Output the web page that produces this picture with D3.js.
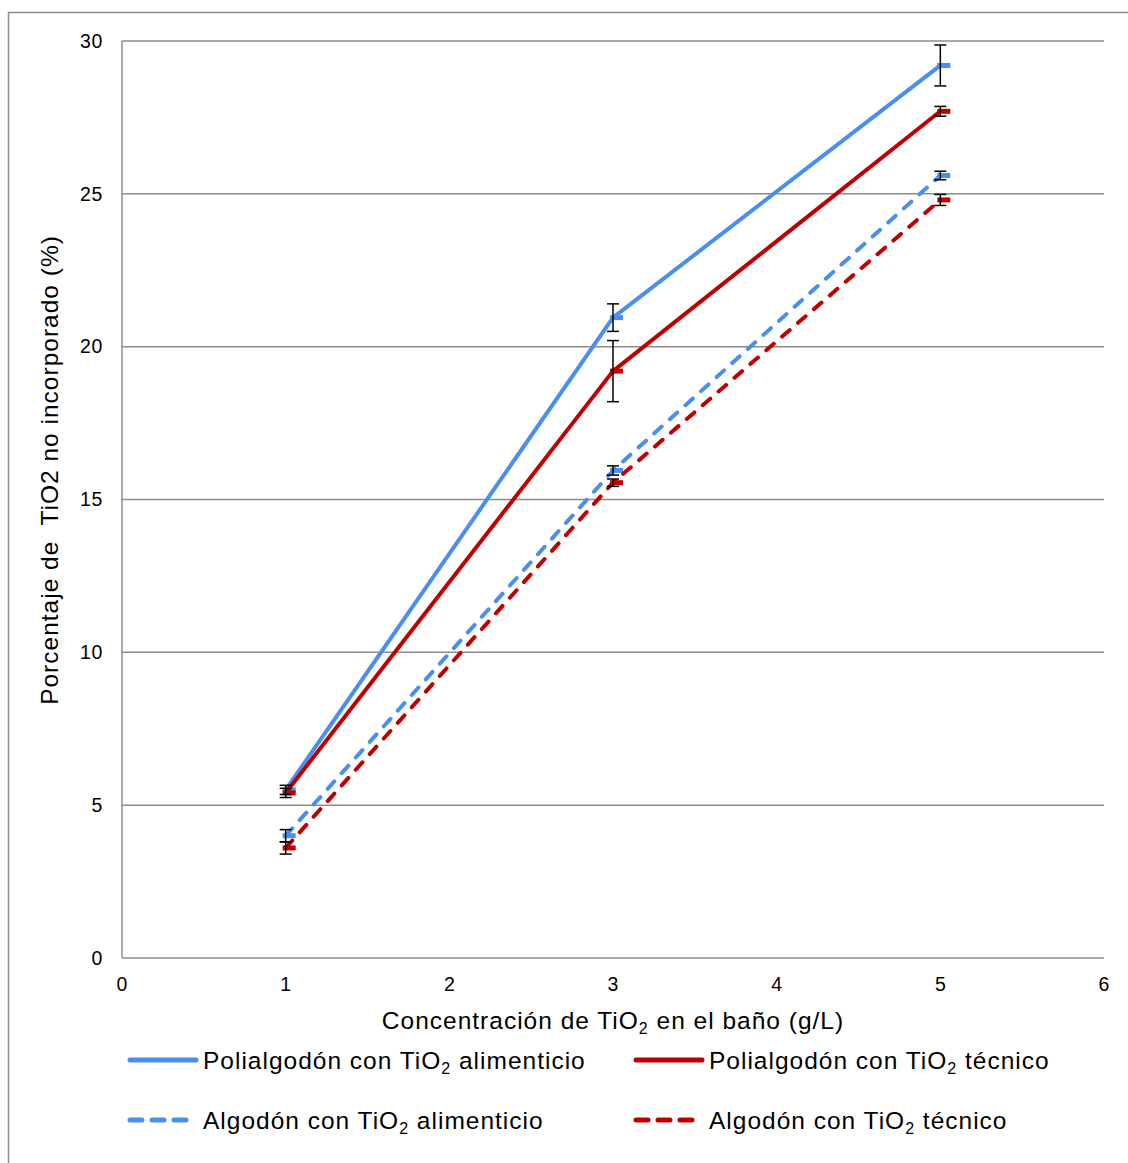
<!DOCTYPE html>
<html>
<head>
<meta charset="utf-8">
<script src="https://cdn.jsdelivr.net/npm/d3@7"></script>
<style>
  body { margin: 0; background: #fff; }
  svg { font-family: "Liberation Sans", Arial, sans-serif; }
</style>
</head>
<body>
<svg width="1128" height="1163"></svg>
<script>
const width = 1128;
const height = 1163;

// datos
const concentrations = [1, 3, 5];
const seriesNames = [
    "Polialgodón con TiO₂ alimenticio",
    "Polialgodón con TiO₂ técnico",
    "Algodón con TiO₂ alimenticio",
    "Algodón con TiO₂ técnico"
];
const polialgodonAlim = [5.5, 20.95, 29.2];
const polialgodonTec = [5.4, 19.2, 27.7];
const algodonAlim = [4.0, 15.95, 25.6];
const algodonTec = [3.6, 15.55, 24.8];
const errPolialgodonAlim = [0.15, 0.45, 0.67];
const errPolialgodonTec = [0.15, 1.0, 0.16];
const errAlgodonAlim = [0.2, 0.15, 0.14];
const errAlgodonTec = [0.2, 0.12, 0.18];
const xTicks = [0, 1, 2, 3, 4, 5, 6];
const yTicks = [0, 5, 10, 15, 20, 25, 30];

const blue = "#4a8ef0";
const red = "#c00000";

const series = [
    {name: seriesNames[0], values: polialgodonAlim, err: errPolialgodonAlim, color: blue, dashed: false},
    {name: seriesNames[1], values: polialgodonTec, err: errPolialgodonTec, color: red, dashed: false},
    {name: seriesNames[2], values: algodonAlim, err: errAlgodonAlim, color: blue, dashed: true},
    {name: seriesNames[3], values: algodonTec, err: errAlgodonTec, color: red, dashed: true}
];

const svg = d3.select("svg");

// marco exterior
svg.append("rect")
    .attr("x", 8.5).attr("y", 12.5)
    .attr("width", 1300).attr("height", 1300)
    .attr("fill", "none")
    .attr("stroke", "#8c8c8c")
    .attr("stroke-width", 1.5);

const x = d3.scaleLinear().domain([0, 6]).range([122, 1104]);
const y = d3.scaleLinear().domain([0, 30]).range([958, 41]);

// cuadrícula
svg.append("g")
    .selectAll("line")
    .data(yTicks.filter(d => d > 0))
    .enter().append("line")
    .attr("x1", x(0)).attr("x2", x(6))
    .attr("y1", d => y(d)).attr("y2", d => y(d))
    .attr("stroke", "#8c8c8c")
    .attr("stroke-width", 1.5);

// ejes
svg.append("line")
    .attr("x1", x(0)).attr("x2", x(0))
    .attr("y1", y(0)).attr("y2", y(30))
    .attr("stroke", "#8c8c8c").attr("stroke-width", 1.5);
svg.append("line")
    .attr("x1", x(0)).attr("x2", x(6))
    .attr("y1", y(0)).attr("y2", y(0))
    .attr("stroke", "#8c8c8c").attr("stroke-width", 1.5);

svg.append("g")
    .selectAll("text")
    .data(yTicks)
    .enter().append("text")
    .attr("x", x(0) - 19)
    .attr("y", d => y(d))
    .attr("dy", "0.35em")
    .attr("text-anchor", "end")
    .attr("font-size", 19.5)
    .attr("letter-spacing", 0.6)
    .text(d => d);

svg.append("g")
    .selectAll("text")
    .data(xTicks)
    .enter().append("text")
    .attr("x", d => x(d))
    .attr("y", 991)
    .attr("text-anchor", "middle")
    .attr("font-size", 19.5)
    .text(d => d);

// títulos de ejes
const xTitle = svg.append("text")
    .attr("x", 613)
    .attr("y", 1029)
    .attr("text-anchor", "middle")
    .attr("font-size", 24.5)
    .attr("letter-spacing", 1.0);
xTitle.append("tspan").text("Concentración de TiO");
xTitle.append("tspan").attr("font-size", 16).attr("dy", 5).text("2");
xTitle.append("tspan").attr("dy", -5).text(" en el baño (g/L)");

svg.append("text")
    .attr("transform", "translate(58,470) rotate(-90)")
    .attr("text-anchor", "middle")
    .attr("font-size", 24.5)
    .attr("letter-spacing", 1.0)
    .attr("xml:space", "preserve")
    .style("white-space", "pre")
    .text("Porcentaje de  TiO2 no incorporado (%)");

// líneas
const line = d3.line()
    .x((d, i) => x(concentrations[i]))
    .y(d => y(d));

series.forEach(s => {
    svg.append("path")
        .datum(s.values)
        .attr("fill", "none")
        .attr("stroke", s.color)
        .attr("stroke-width", 4)
        .attr("stroke-linejoin", "round")
        .attr("stroke-linecap", s.dashed ? "round" : "butt")
        .attr("stroke-dasharray", s.dashed ? "10,11" : null)
        .attr("d", line);

    // marcadores
    svg.append("g")
        .selectAll("line")
        .data(s.values)
        .enter().append("line")
        .attr("x1", (d, i) => x(concentrations[i]) - 3)
        .attr("x2", (d, i) => x(concentrations[i]) + 10)
        .attr("y1", d => y(d))
        .attr("y2", d => y(d))
        .attr("stroke", s.color)
        .attr("stroke-width", 5);
});

// barras de error
series.forEach(s => {
    const g = svg.append("g").attr("stroke", "#000").attr("stroke-width", 1.5);
    s.values.forEach((v, i) => {
        const cx = x(concentrations[i]);
        const top = y(v + s.err[i]);
        const bot = y(v - s.err[i]);
        g.append("line").attr("x1", cx).attr("x2", cx).attr("y1", top).attr("y2", bot);
        g.append("line").attr("x1", cx - 6).attr("x2", cx + 6).attr("y1", top).attr("y2", top);
        g.append("line").attr("x1", cx - 6).attr("x2", cx + 6).attr("y1", bot).attr("y2", bot);
    });
});

// leyenda
const legendPos = [
    {lx: 128, ty: 1060},
    {lx: 634, ty: 1060},
    {lx: 128, ty: 1120},
    {lx: 634, ty: 1120}
];

series.forEach((s, i) => {
    const p = legendPos[i];
    const g = svg.append("g");
    g.append("line")
        .attr("x1", p.lx + 2).attr("x2", p.lx + 68)
        .attr("y1", p.ty).attr("y2", p.ty)
        .attr("stroke", s.color)
        .attr("stroke-width", 5)
        .attr("stroke-linecap", "round")
        .attr("stroke-dasharray", s.dashed ? "12,10" : null);
    const t = g.append("text")
        .attr("x", p.lx + 75)
        .attr("y", p.ty + 9)
        .attr("font-size", 24.5)
        .attr("letter-spacing", 1.0);
    const parts = s.name.split("TiO₂");
    t.append("tspan").text(parts[0] + "TiO");
    t.append("tspan").attr("font-size", 16).attr("dy", 5).text("2");
    t.append("tspan").attr("dy", -5).text(parts[1]);
});
</script>
</body>
</html>
